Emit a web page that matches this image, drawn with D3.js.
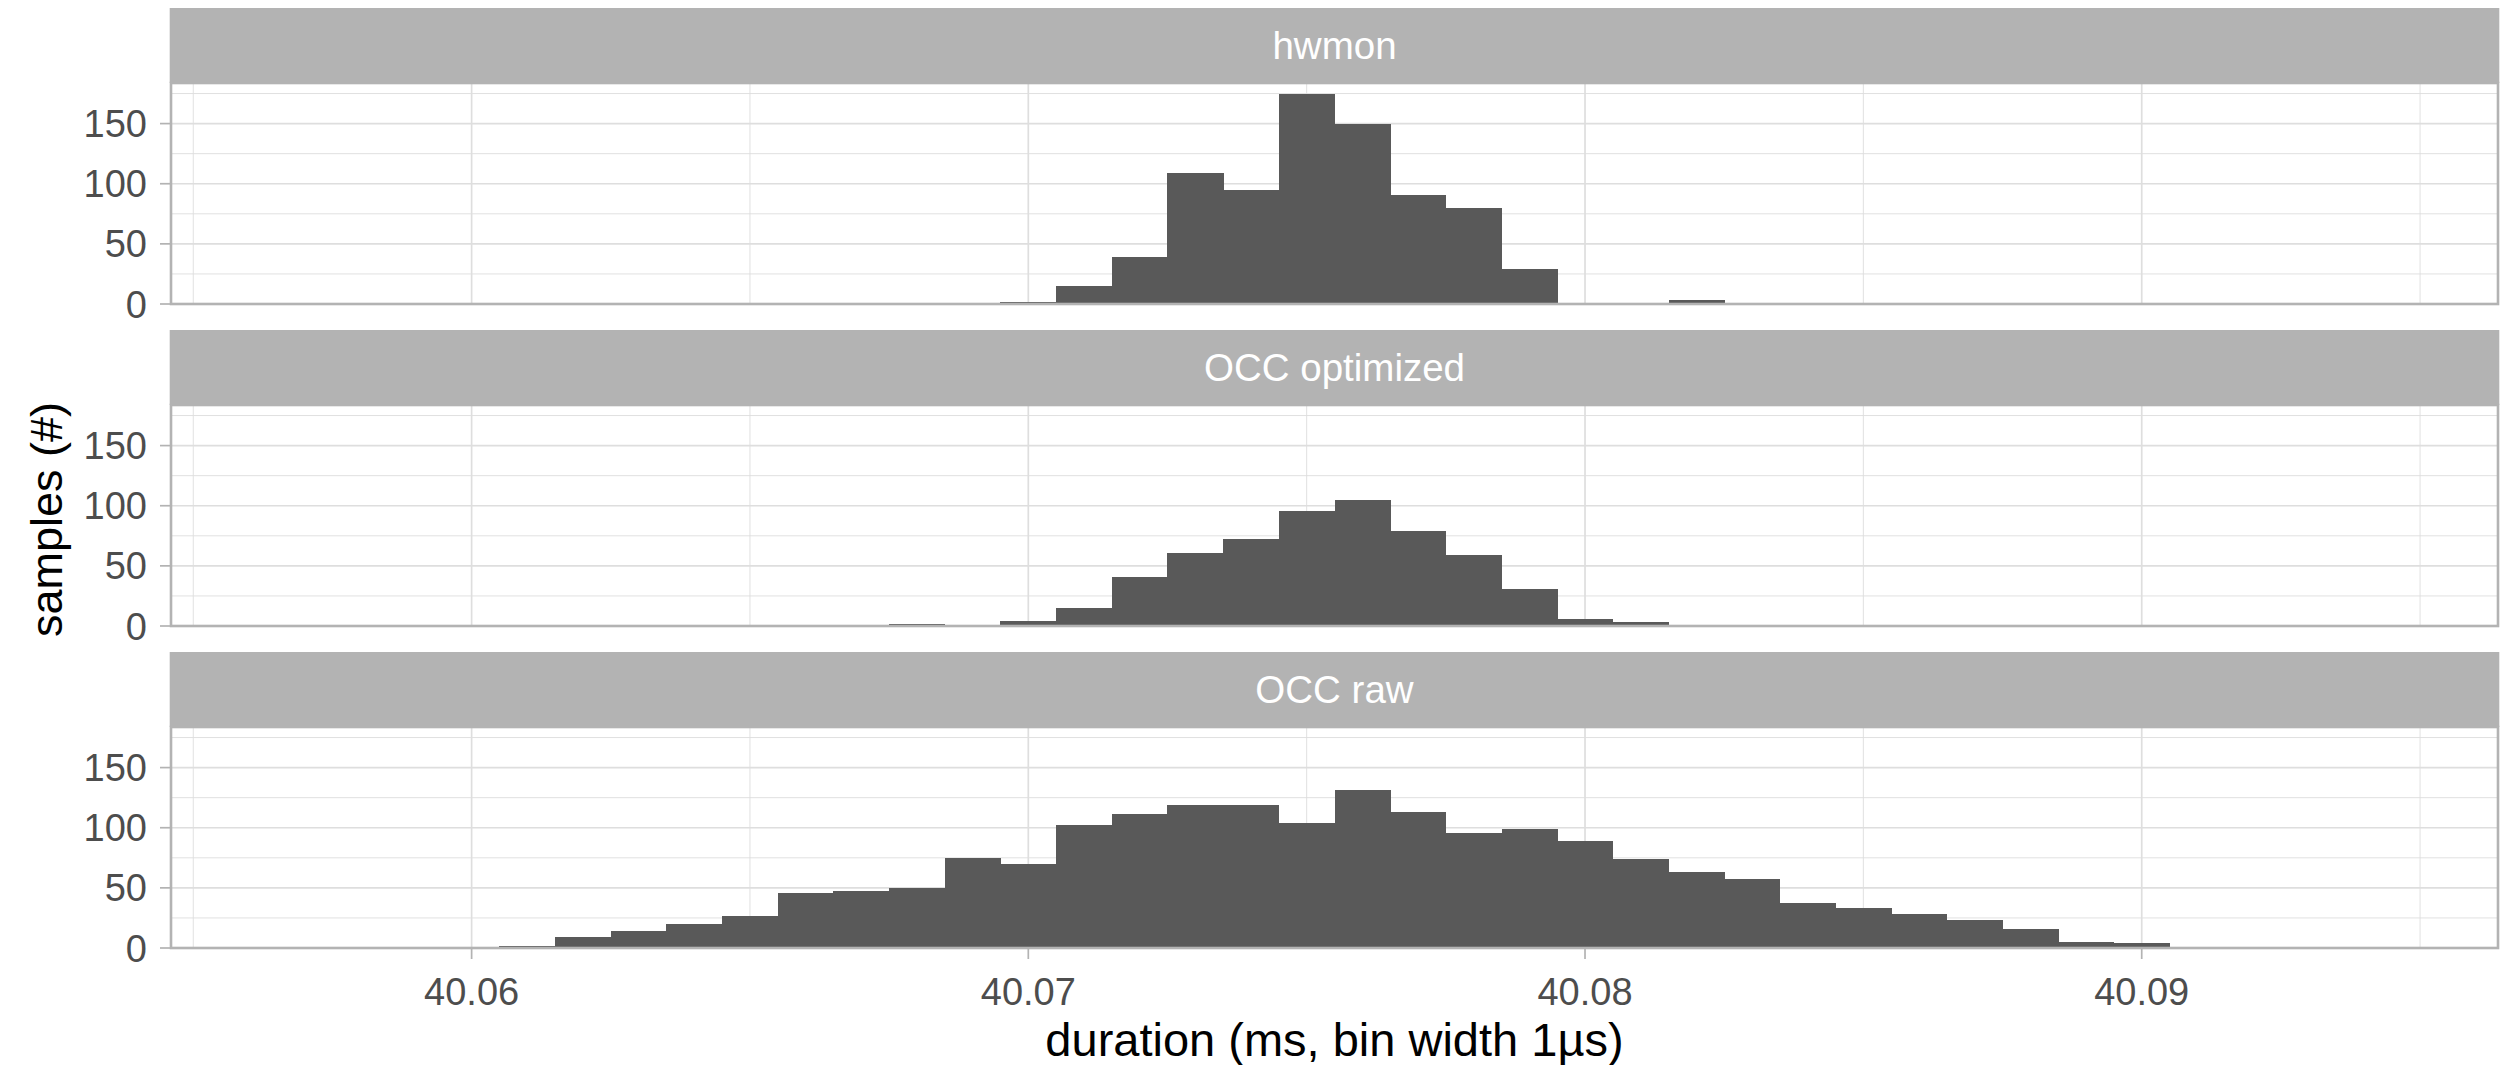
<!DOCTYPE html>
<meta charset="utf-8">
<style>
body { margin: 0; background: #fff; }
svg text { font-family: "Liberation Sans", Arial, Helvetica, sans-serif; }
.strip text { fill: #fff; font-size: 38.5px; }
.ytick text, .xtick text { fill: #4d4d4d; font-size: 38px; }
.title { fill: #000; font-size: 45px; }
.xtitle { font-size: 47px; }
.bar { shape-rendering: crispEdges; }
</style>
<body>
<script src="https://cdn.jsdelivr.net/npm/d3@7"></script>
<script>

// facet names, one histogram each (bin width 1 µs = 0.001 ms)
var facets = ["hwmon", "OCC optimized", "OCC raw"];
var binWidth = 0.001;
var binExtent = [40.0565, 40.0945];   // bins ggplot built over all facets

// first bin edge + counts per facet
var hwmonStart = 40.0685;
var hwmonCounts = [1, 2, 15, 39, 109, 95, 175, 150, 91, 80, 29, 0, 0, 3];

var occOptStart = 40.0645;
var occOptCounts = [1, 1, 1, 2, 0, 4, 15, 41, 61, 72, 96, 105, 79, 59, 31, 6, 3, 1, 1];

var occRawStart = 40.0605;
var occRawCounts = [2, 9, 14, 20, 27, 46, 47, 50, 75, 70, 102, 111, 119, 119, 104, 131,
                    113, 96, 99, 89, 74, 63, 57, 37, 33, 28, 23, 16, 5, 4];

var xTicks = [40.06, 40.07, 40.08, 40.09];
var xMinor = [40.055, 40.065, 40.075, 40.085, 40.095];
var yTicks = [0, 50, 100, 150];
var yMinor = [25, 75, 125, 175];

var series = [
  {name: facets[0], start: hwmonStart, counts: hwmonCounts},
  {name: facets[1], start: occOptStart, counts: occOptCounts},
  {name: facets[2], start: occRawStart, counts: occRawCounts}
];

// layout
var W = 2504, H = 1065;
var left = 171, right = 2498;
var firstStrip = 8, stripH = 75, panelH = 221, period = 322;

var svg = d3.select("body").append("svg")
    .attr("width", W)
    .attr("height", H);

// x scale with ggplot's 5% expansion
var span = binExtent[1] - binExtent[0];
var x = d3.scaleLinear()
    .domain([binExtent[0] - 0.05 * span, binExtent[1] + 0.05 * span])
    .range([left, right]);

var yMax = d3.max(series, function(s) { return d3.max(s.counts); }) * 1.05;

series.forEach(function(s, k) {
  var stripTop = firstStrip + k * period;
  var top = stripTop + stripH, bottom = top + panelH;
  var y = d3.scaleLinear().domain([0, yMax]).range([bottom, top]);
  var g = svg.append("g");

  // grid
  g.selectAll(".ym").data(yMinor).enter().append("line")
    .attr("x1", left).attr("x2", right)
    .attr("y1", y).attr("y2", y)
    .attr("stroke", "#dedede").attr("stroke-width", 0.9);
  g.selectAll(".xm").data(xMinor).enter().append("line")
    .attr("x1", x).attr("x2", x)
    .attr("y1", top).attr("y2", bottom)
    .attr("stroke", "#dedede").attr("stroke-width", 0.9);
  g.selectAll(".yM").data(yTicks).enter().append("line")
    .attr("x1", left).attr("x2", right)
    .attr("y1", y).attr("y2", y)
    .attr("stroke", "#dedede").attr("stroke-width", 1.7);
  g.selectAll(".xM").data(xTicks).enter().append("line")
    .attr("x1", x).attr("x2", x)
    .attr("y1", top).attr("y2", bottom)
    .attr("stroke", "#dedede").attr("stroke-width", 1.7);

  // bars
  var bins = s.counts.map(function(c, i) {
    return {x0: s.start + i * binWidth, x1: s.start + (i + 1) * binWidth, n: c};
  }).filter(function(d) { return d.n > 0; });

  g.selectAll(".bar").data(bins).enter().append("rect")
    .attr("class", "bar")
    .attr("x", function(d) { return x(d.x0); })
    .attr("width", function(d) { return x(d.x1) - x(d.x0) + 0.5; })
    .attr("y", function(d) { return y(d.n); })
    .attr("height", function(d) { return Math.max(bottom - y(d.n), 1.5); })
    .attr("fill", "#595959");

  // panel border
  g.append("rect")
    .attr("x", left).attr("y", top)
    .attr("width", right - left).attr("height", panelH)
    .attr("fill", "none").attr("stroke", "#b3b3b3").attr("stroke-width", 2.6);

  // strip
  var st = g.append("g").attr("class", "strip");
  st.append("rect")
    .attr("x", left - 1.3).attr("y", stripTop)
    .attr("width", right - left + 2.6).attr("height", stripH)
    .attr("fill", "#b3b3b3");
  st.append("text")
    .attr("x", (left + right) / 2).attr("y", stripTop + stripH / 2 + 13)
    .attr("text-anchor", "middle")
    .text(s.name);

  // y axis
  var ya = g.append("g").attr("class", "ytick");
  ya.selectAll("line").data(yTicks).enter().append("line")
    .attr("x1", left - 11).attr("x2", left)
    .attr("y1", y).attr("y2", y)
    .attr("stroke", "#b3b3b3").attr("stroke-width", 1.7);
  ya.selectAll("text").data(yTicks).enter().append("text")
    .attr("x", left - 24)
    .attr("y", function(d) { return y(d) + 13.5; })
    .attr("text-anchor", "end")
    .text(function(d) { return d; });

  // x axis only under the last panel
  if (k == series.length - 1) {
    var xa = g.append("g").attr("class", "xtick");
    xa.selectAll("line").data(xTicks).enter().append("line")
      .attr("x1", x).attr("x2", x)
      .attr("y1", bottom).attr("y2", bottom + 11)
      .attr("stroke", "#b3b3b3").attr("stroke-width", 1.7);
    xa.selectAll("text").data(xTicks).enter().append("text")
      .attr("x", x)
      .attr("y", bottom + 57)
      .attr("text-anchor", "middle")
      .text(function(d) { return d3.format(".2f")(d); });
  }
});

// axis titles
svg.append("text")
  .attr("class", "title xtitle")
  .attr("x", (left + right) / 2).attr("y", 1056)
  .attr("text-anchor", "middle")
  .text("duration (ms, bin width 1µs)");

svg.append("text")
  .attr("class", "title")
  .attr("transform", "translate(62," + ((firstStrip + stripH + firstStrip + 2 * period + stripH + panelH) / 2 + 4) + ") rotate(-90)")
  .attr("text-anchor", "middle")
  .text("samples (#)");

</script>
</body>
